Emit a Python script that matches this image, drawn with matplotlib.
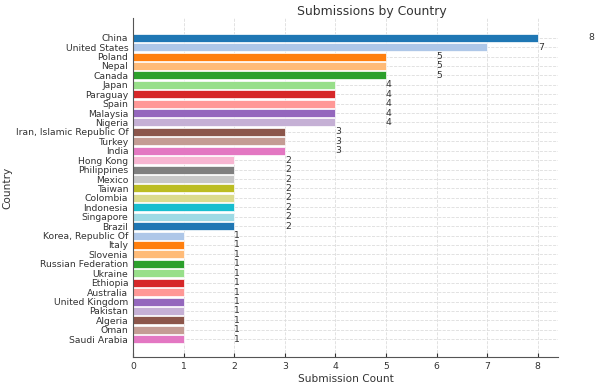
import matplotlib
matplotlib.use("Agg")
import matplotlib.pyplot as plt

countries = ["China", "United States", "Poland", "Nepal", "Canada", "Japan", "Paraguay",
             "Spain", "Malaysia", "Nigeria", "Iran, Islamic Republic Of", "Turkey", "India",
             "Hong Kong", "Philippines", "Mexico", "Taiwan", "Colombia", "Indonesia",
             "Singapore", "Brazil", "Korea, Republic Of", "Italy", "Slovenia",
             "Russian Federation", "Ukraine", "Ethiopia", "Australia", "United Kingdom",
             "Pakistan", "Algeria", "Oman", "Saudi Arabia"]
counts = [8, 7, 5, 5, 5, 4, 4, 4, 4, 4, 3, 3, 3, 2, 2, 2, 2, 2, 2, 2, 2,
          1, 1, 1, 1, 1, 1, 1, 1, 1, 1, 1, 1]

cmap = plt.get_cmap("tab20")
colors = [cmap(i % 20) for i in range(len(countries))]

fig = plt.figure(figsize=(6, 3.89), dpi=100)
ax = fig.add_axes([0.222, 0.082, 0.708, 0.872])
ypos = list(range(len(countries)))
ax.barh(ypos, counts, height=0.85, color=colors, edgecolor="white", linewidth=0.5, zorder=2)
for y, v in zip(ypos, counts):
    ax.text(v + 1, y, str(v), va="center", ha="left", fontsize=6.7, color="#333333", clip_on=False)

ax.set_yticks(ypos)
ax.set_yticklabels(countries, fontsize=6.7, color="#333333")
ax.set_ylim(len(countries) - 1 + 1.9, -2.1)
ax.set_xlim(0, 8.4)
ax.set_xticks(range(0, 9))
ax.tick_params(axis="x", labelsize=6.7, colors="#333333", direction="in", length=3)
ax.tick_params(axis="y", direction="in", length=2, colors="#333333", labelcolor="#333333")
ax.grid(True, linestyle="--", color="#dddddd", linewidth=0.6, zorder=0)
ax.set_axisbelow(True)
for s in ["top", "right"]:
    ax.spines[s].set_visible(False)
for s in ["left", "bottom"]:
    ax.spines[s].set_color("#555555")
ax.set_xlabel("Submission Count", fontsize=7.6, color="#333333", labelpad=2)
ax.set_ylabel("Country", fontsize=7.6, color="#333333")
ax.yaxis.set_label_coords(-0.285, 0.5)
fig.text(372 / 600, 1 - 11 / 389, "Submissions by Country", fontsize=8.9, color="#333333",
         ha="center", va="center")
fig.savefig("out.png", dpi=100)
